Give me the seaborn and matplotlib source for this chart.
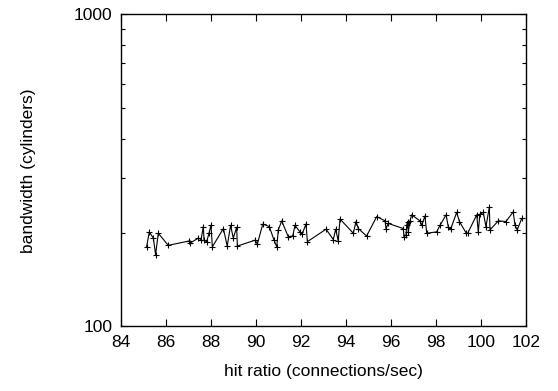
import numpy as np
import pandas as pd
import matplotlib
matplotlib.use("Agg")
import matplotlib.pyplot as plt
import seaborn as sns
from matplotlib.ticker import LogLocator, NullFormatter, FixedLocator

# values
hit_ratio = [85.15, 85.27, 85.45, 85.55, 85.67, 86.11, 87.05, 87.08, 87.45, 87.57,
             87.67, 87.70, 87.82, 87.92, 88.01, 88.07, 88.56, 88.73, 88.88, 89.00,
             89.15, 89.18, 89.96, 90.07, 90.31, 90.60, 90.81, 90.93, 91.00, 91.15,
             91.44, 91.64, 91.74, 91.96, 92.06, 92.23, 92.29, 93.12, 93.44, 93.55,
             93.66, 93.74, 94.33, 94.45, 94.55, 94.92, 95.37, 95.74, 95.78, 95.88,
             96.55, 96.58, 96.67, 96.70, 96.74, 96.77, 96.85, 96.92, 97.29, 97.37,
             97.51, 97.59, 98.03, 98.18, 98.45, 98.55, 98.65, 98.92, 99.04, 99.33,
             99.41, 99.81, 99.88, 99.95, 100.10, 100.22, 100.37, 100.40, 100.77, 101.11,
             101.43, 101.51, 101.61, 101.81]
bandwidth = [180, 201, 192, 170, 199, 182, 188, 185, 192, 190,
             209, 189, 187, 199, 211, 180, 206, 181, 211, 192,
             208, 181, 189, 184, 213, 209, 189, 180, 204, 218,
             194, 195, 211, 201, 198, 213, 187, 205, 190, 205,
             188, 221, 199, 217, 206, 195, 225, 218, 206, 214,
             206, 194, 196, 211, 217, 201, 218, 228, 218, 211,
             226, 199, 201, 211, 228, 208, 205, 232, 217, 200,
             199, 228, 201, 229, 232, 209, 241, 204, 218, 217,
             233, 211, 204, 222]
x_ticks = [84, 86, 88, 90, 92, 94, 96, 98, 100, 102]

df = pd.DataFrame({'hit': hit_ratio, 'bw': bandwidth})

sns.set_style("ticks")
plt.rcParams['font.family'] = ['Liberation Sans', 'DejaVu Sans']
plt.rcParams['text.color'] = 'black'
plt.rcParams['axes.labelcolor'] = 'black'
plt.rcParams['xtick.color'] = 'black'
plt.rcParams['ytick.color'] = 'black'

fig = plt.figure(figsize=(5.58, 3.91), dpi=100)
ax = fig.add_axes([0.2163, 0.165, 0.7264, 0.798])

sns.lineplot(data=df, x='hit', y='bw', ax=ax, sort=False, color='black',
             linewidth=0.8, marker='+', markersize=5, markeredgewidth=0.8,
             markeredgecolor='black', estimator=None)

ax.set_yscale('log')
ax.set_xlim(84, 102)
ax.set_ylim(100, 1000)
ax.xaxis.set_major_locator(FixedLocator(x_ticks))
ax.set_xticklabels([str(t) for t in x_ticks])
ax.yaxis.set_major_locator(FixedLocator([100, 1000]))
ax.set_yticklabels(['100', '1000'])
ax.yaxis.set_minor_locator(LogLocator(base=10, subs=np.arange(2, 10)))
ax.yaxis.set_minor_formatter(NullFormatter())

ax.tick_params(which='both', direction='in', top=True, right=True,
               labelsize=12.5, labelcolor='black', color='black', width=0.8)
ax.tick_params(which='major', length=5, pad=6)
ax.tick_params(which='minor', length=3)
for s in ax.spines.values():
    s.set_linewidth(1.0)
    s.set_color('black')

ax.set_xlabel('hit ratio (connections/sec)', fontsize=12.5, labelpad=10)
ax.set_ylabel('bandwidth (cylinders)', fontsize=12.5, labelpad=27)

fig.savefig('out.png', dpi=100)
